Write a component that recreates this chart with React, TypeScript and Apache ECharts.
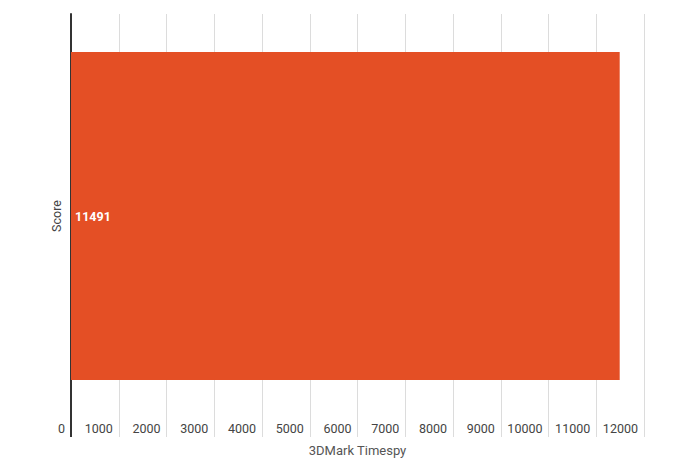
import React, { useEffect, useRef } from "react";
import * as echarts from "echarts";

const categories: string[] = ["Score"];
const scores: number[] = [11491];
const xAxisTitle = "3DMark Timespy";
const xMin = 0;
const xMax = 12000;
const xInterval = 1000;

const GRID_LEFT = 71;
const GRID_RIGHT = 48;
const GRID_TOP = 14;
const GRID_BOTTOM = 54;
const EXT = 19;

export default function App() {
  const ref = useRef<HTMLDivElement>(null);
  useEffect(() => {
    if (!ref.current) return;
    const chart = echarts.init(ref.current, undefined, { renderer: "svg" });
    const H = 472;
    chart.setOption({
      animation: false,
      backgroundColor: "#ffffff",
      textStyle: { fontFamily: "Roboto" },
      grid: { left: GRID_LEFT, right: GRID_RIGHT, top: GRID_TOP, bottom: GRID_BOTTOM, containLabel: false },
      xAxis: {
        type: "value",
        min: xMin,
        max: xMax,
        interval: xInterval,
        name: xAxisTitle,
        nameLocation: "middle",
        nameGap: 26,
        nameTextStyle: { color: "#555", fontSize: 13, fontFamily: "Roboto" },
        axisLine: { show: false },
        axisTick: { show: true, inside: false, length: EXT, lineStyle: { color: "#dcdcdc", width: 1 } },
        splitLine: { show: true, lineStyle: { color: "#dcdcdc", width: 1 } },
        axisLabel: {
          color: "#444",
          fontSize: 12.5,
          fontFamily: "Roboto",
          align: "right",
          padding: [0, 6, 0, 0],
          margin: 4,
          formatter: (v: number) => String(v),
        },
      },
      yAxis: {
        type: "category",
        data: categories,
        axisLine: { show: true, lineStyle: { color: "#333", width: 2 } },
        axisTick: { show: false },
        splitLine: { show: false },
        axisLabel: { rotate: 90, color: "#444", fontSize: 12.5, fontFamily: "Roboto", margin: 8 },
      },
      graphic: [
        {
          type: "line",
          shape: { x1: GRID_LEFT, y1: H - GRID_BOTTOM, x2: GRID_LEFT, y2: H - GRID_BOTTOM + EXT },
          style: { stroke: "#333", lineWidth: 2 },
          z: 100,
        },
      ],
      series: [
        {
          type: "bar",
          data: scores,
          barCategoryGap: "18.8%",
          itemStyle: { color: "#e44f25" },
          label: {
            show: true,
            position: "insideLeft",
            distance: 4,
            color: "#ffffff",
            fontWeight: "bold",
            fontSize: 12.5,
            fontFamily: "Roboto",
          },
        },
      ],
    });
    return () => chart.dispose();
  }, []);
  return <div ref={ref} style={{ width: 692, height: 472, position: "absolute", left: 0, top: 0 }} />;
}
